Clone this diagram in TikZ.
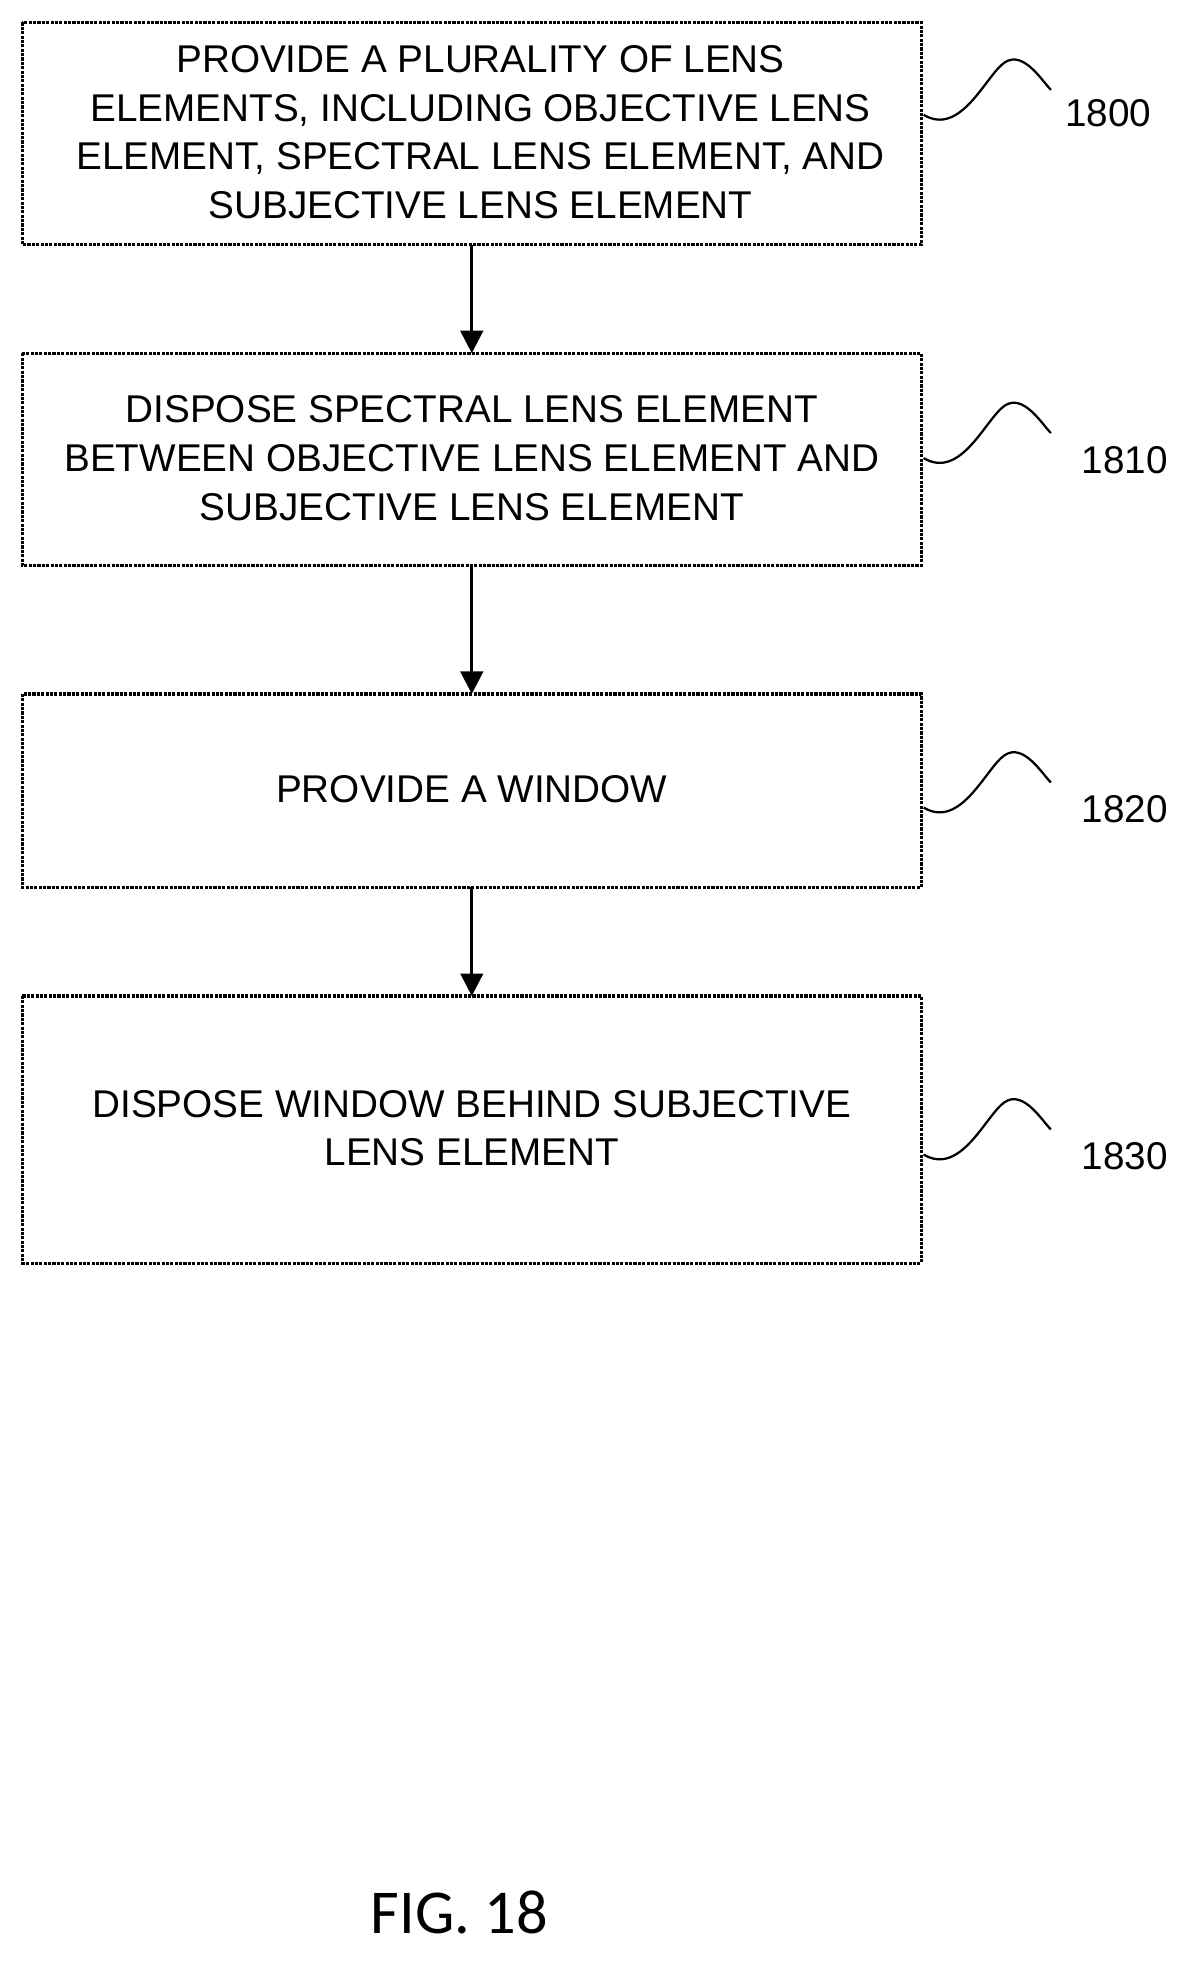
\documentclass[tikz,border=0pt]{standalone}
\usepackage{fontspec}
\setmainfont{Liberation Sans}
\newfontfamily\figfont{Carlito}
\usetikzlibrary{arrows.meta}
\begin{document}
\begin{tikzpicture}[x=1pt,y=-1pt,
  box/.style={draw,line width=2.5pt,densely dotted},
  txt/.style={align=center,font=\fontsize{31}{39}\selectfont},
  lbl/.style={font=\fontsize{31}{36}\selectfont},
  arr/.style={line width=2.5pt,-{Triangle[length=18pt,width=18pt]}},
  sq/.style={line width=1.8pt}]
\useasboundingbox (0,0) rectangle (960,1576);
\draw[box] (18,18) rectangle (738,196);
\draw[box] (18,283) rectangle (738,453);
\draw[box] (18,556) rectangle (738,711);
\draw[box] (18,798) rectangle (738,1012);
\coordinate (b1) at (378,196); \coordinate (t2) at (378,283);
\coordinate (b2) at (378,453); \coordinate (t3) at (378,556);
\coordinate (b3) at (378,711); \coordinate (t4) at (378,798);
\node[txt] (n1) at (385,106) {PROVIDE A PLURALITY OF LENS\\ELEMENTS, INCLUDING OBJECTIVE LENS\\ELEMENT, SPECTRAL LENS ELEMENT, AND\\SUBJECTIVE LENS ELEMENT};
\node[txt] (n2) at (378,367) {DISPOSE SPECTRAL LENS ELEMENT\\BETWEEN OBJECTIVE LENS ELEMENT AND\\SUBJECTIVE LENS ELEMENT};
\node[txt] (n3) at (378,632) {PROVIDE A WINDOW};
\node[txt] (n4) at (378,904) {DISPOSE WINDOW BEHIND SUBJECTIVE\\LENS ELEMENT};
\draw[arr] (b1) -- (t2);
\draw[arr] (b2) -- (t3);
\draw[arr] (b3) -- (t4);
\foreach \y/\l [count=\i] in {70/1800,345/1810,625/1820,903/1830}{
  \draw[sq] (740,\y+22) .. controls (770,\y+40) and (790,\y-10) .. (805,\y-20) .. controls (820,\y-30) and (835,\y-5) .. (842,\y+2);
}
\node[lbl] (l1) at (888,91) {1800};
\node[lbl] (l2) at (901,369) {1810};
\node[lbl] (l3) at (901,648) {1820};
\node[lbl] (l4) at (901,926) {1830};
\node[font=\figfont\fontsize{50}{54}\selectfont] (fig) at (368,1532) {FIG. 18};
\end{tikzpicture}
\end{document}
